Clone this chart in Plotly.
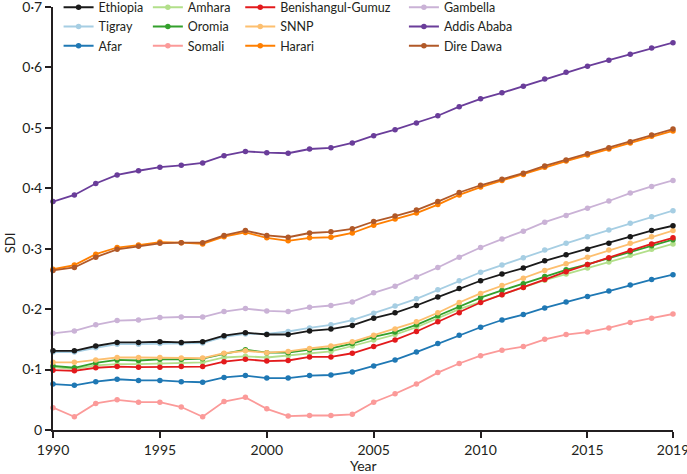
import plotly.graph_objects as go

years = list(range(1990, 2020))

ethiopia = [0.131, 0.131, 0.139, 0.145, 0.145, 0.146, 0.145, 0.146, 0.156, 0.161, 0.158, 0.158, 0.164, 0.167, 0.173, 0.185, 0.194, 0.206, 0.220, 0.234, 0.247, 0.258, 0.268, 0.280, 0.290, 0.299, 0.309, 0.320, 0.330, 0.338]
tigray = [0.129, 0.129, 0.136, 0.142, 0.142, 0.143, 0.143, 0.144, 0.154, 0.159, 0.159, 0.163, 0.169, 0.174, 0.182, 0.193, 0.205, 0.217, 0.232, 0.247, 0.261, 0.273, 0.285, 0.298, 0.309, 0.320, 0.331, 0.342, 0.353, 0.363]
afar = [0.076, 0.074, 0.080, 0.084, 0.082, 0.082, 0.080, 0.079, 0.087, 0.090, 0.086, 0.086, 0.090, 0.091, 0.096, 0.106, 0.116, 0.129, 0.143, 0.157, 0.170, 0.182, 0.191, 0.202, 0.212, 0.221, 0.230, 0.240, 0.249, 0.257]
amhara = [0.104, 0.101, 0.107, 0.109, 0.109, 0.110, 0.111, 0.112, 0.120, 0.122, 0.120, 0.123, 0.127, 0.130, 0.139, 0.149, 0.158, 0.170, 0.185, 0.200, 0.212, 0.224, 0.236, 0.248, 0.258, 0.268, 0.278, 0.289, 0.299, 0.308]
oromia = [0.106, 0.103, 0.111, 0.116, 0.115, 0.117, 0.117, 0.118, 0.126, 0.133, 0.128, 0.128, 0.133, 0.135, 0.143, 0.154, 0.162, 0.174, 0.189, 0.204, 0.219, 0.231, 0.242, 0.254, 0.265, 0.274, 0.284, 0.295, 0.305, 0.315]
somali = [0.037, 0.022, 0.044, 0.050, 0.046, 0.046, 0.038, 0.022, 0.047, 0.054, 0.035, 0.023, 0.024, 0.024, 0.026, 0.046, 0.060, 0.076, 0.095, 0.110, 0.123, 0.132, 0.138, 0.150, 0.158, 0.162, 0.169, 0.178, 0.185, 0.192]
benishangul = [0.099, 0.098, 0.103, 0.105, 0.104, 0.104, 0.105, 0.105, 0.113, 0.117, 0.114, 0.115, 0.121, 0.121, 0.127, 0.138, 0.149, 0.163, 0.179, 0.194, 0.211, 0.224, 0.236, 0.249, 0.262, 0.274, 0.285, 0.297, 0.308, 0.318]
snnp = [0.112, 0.112, 0.116, 0.120, 0.120, 0.120, 0.119, 0.119, 0.127, 0.131, 0.128, 0.130, 0.135, 0.139, 0.146, 0.157, 0.167, 0.179, 0.194, 0.211, 0.226, 0.239, 0.251, 0.264, 0.275, 0.286, 0.298, 0.309, 0.320, 0.330]
harari = [0.266, 0.273, 0.291, 0.302, 0.306, 0.311, 0.310, 0.308, 0.320, 0.327, 0.318, 0.313, 0.318, 0.319, 0.326, 0.339, 0.349, 0.359, 0.373, 0.389, 0.402, 0.413, 0.423, 0.435, 0.445, 0.455, 0.465, 0.475, 0.486, 0.495]
dire_dawa = [0.264, 0.269, 0.286, 0.299, 0.304, 0.309, 0.310, 0.310, 0.322, 0.330, 0.322, 0.319, 0.326, 0.328, 0.333, 0.345, 0.354, 0.364, 0.378, 0.393, 0.405, 0.415, 0.425, 0.437, 0.447, 0.457, 0.467, 0.477, 0.488, 0.498]
gambella = [0.160, 0.164, 0.174, 0.181, 0.182, 0.186, 0.187, 0.187, 0.196, 0.201, 0.197, 0.196, 0.203, 0.206, 0.212, 0.227, 0.238, 0.253, 0.269, 0.286, 0.302, 0.316, 0.329, 0.344, 0.355, 0.367, 0.379, 0.392, 0.403, 0.413]
addis_ababa = [0.378, 0.389, 0.408, 0.422, 0.429, 0.435, 0.438, 0.442, 0.454, 0.461, 0.459, 0.458, 0.465, 0.467, 0.475, 0.487, 0.497, 0.508, 0.520, 0.535, 0.548, 0.558, 0.569, 0.581, 0.592, 0.602, 0.612, 0.622, 0.632, 0.641]

y_tickvals = [0, 0.1, 0.2, 0.3, 0.4, 0.5, 0.6, 0.7]
y_ticktext = ["0", "0·1", "0·2", "0·3", "0·4", "0·5", "0·6", "0·7"]
x_tickvals = [1990, 1995, 2000, 2005, 2010, 2015, 2019]

# (name, values, colour, legend, rank)
series = [
    ("Tigray", tigray, "#a6cee3", "legend", 2),
    ("Afar", afar, "#1f78b4", "legend", 3),
    ("Amhara", amhara, "#b2df8a", "legend2", 1),
    ("Oromia", oromia, "#33a02c", "legend2", 2),
    ("Somali", somali, "#fb9a99", "legend2", 3),
    ("Benishangul-Gumuz", benishangul, "#e31a1c", "legend3", 1),
    ("SNNP", snnp, "#fdbf6f", "legend3", 2),
    ("Harari", harari, "#ff7f00", "legend3", 3),
    ("Gambella", gambella, "#cab2d6", "legend4", 1),
    ("Addis Ababa", addis_ababa, "#6a3d9a", "legend4", 2),
    ("Dire Dawa", dire_dawa, "#b15928", "legend4", 3),
    ("Ethiopia", ethiopia, "#1a1a1a", "legend", 1),
]

fig = go.Figure()
for name, vals, col, leg, rank in series:
    fig.add_trace(go.Scatter(
        x=years, y=vals, name=name, mode="lines+markers",
        line=dict(color=col, width=1.8),
        marker=dict(color=col, size=5.5),
        legend=leg, legendrank=rank, cliponaxis=False,
    ))

font_family = "Lato, 'Open Sans', sans-serif"
txt_col = "#231f20"
leg_common = dict(orientation="v", yanchor="top", xanchor="left", bgcolor="rgba(0,0,0,0)",
                  font=dict(family=font_family, size=12.5, color=txt_col),
                  tracegroupgap=0, traceorder="normal", itemwidth=30)
ly = 1.034
fig.update_layout(
    width=687, height=474,
    margin=dict(l=53, r=14, t=7, b=44, autoexpand=False),
    paper_bgcolor="white", plot_bgcolor="white",
    font=dict(family=font_family, size=14, color=txt_col),
    showlegend=True,
    legend=dict(x=0.009, y=ly, **leg_common),
    legend2=dict(x=0.153, y=ly, **leg_common),
    legend3=dict(x=0.302, y=ly, **leg_common),
    legend4=dict(x=0.566, y=ly, **leg_common),
    xaxis=dict(range=[1990, 2019], tickvals=x_tickvals, showgrid=False, zeroline=False,
               showline=True, linecolor=txt_col, linewidth=2, ticks="outside",
               ticklen=6, tickwidth=2, tickcolor=txt_col, automargin=False,
               ticklabeloverflow="allow", tickfont=dict(size=14)),
    yaxis=dict(range=[0, 0.7], tickvals=y_tickvals, ticktext=y_ticktext, showgrid=False,
               zeroline=False, showline=True, linecolor=txt_col, linewidth=2,
               ticks="outside", ticklen=6, tickwidth=2, tickcolor=txt_col, automargin=False,
               ticklabeloverflow="allow", tickfont=dict(size=14)),
    annotations=[
        dict(text="Year", xref="paper", yref="paper", x=0.5, y=-0.085, xanchor="center",
             yanchor="middle", showarrow=False, font=dict(size=14, color=txt_col)),
        dict(text="SDI", xref="paper", yref="paper", x=-0.069, y=0.442, xanchor="center",
             yanchor="middle", textangle=-90, showarrow=False, font=dict(size=13, color=txt_col)),
    ],
)
fig.write_html("out.html", config={"displayModeBar": False},
               post_script="document.body.style.margin='0';")
